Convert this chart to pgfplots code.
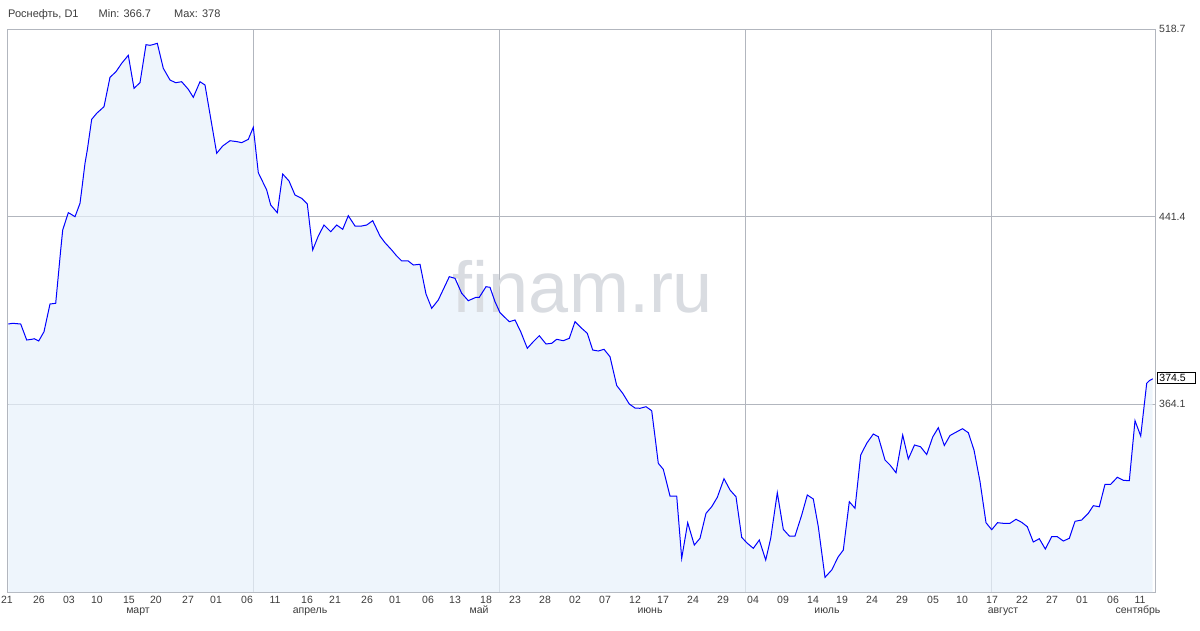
\documentclass[border=0pt]{standalone}
\usepackage{pgfplots}
\pgfplotsset{compat=1.18}
\usepackage{pgfplotstable}
\usepackage{fontspec}
\setmainfont{Liberation Sans}
\definecolor{lineblue}{RGB}{0,0,255}
\definecolor{areafill}{RGB}{231,241,251}
\definecolor{gridgray}{RGB}{178,182,190}
\definecolor{txt}{RGB}{60,60,60}
\definecolor{wm}{RGB}{217,220,225}

% x = position on the time axis, y = price
\pgfplotstableread{
x y
8.3 397.08
12.7 397.37
20.7 397.08
26.7 390.48
31.7 390.77
34.3 391.02
38.7 390.07
44 393.91
50 405.33
55.7 405.61
60.7 427.59
62.7 435.83
68.3 442.97
70.7 442.43
75 441.31
80 446.84
81.7 452.32
85 463.33
87.3 468.82
91.7 481.47
96.7 483.95
104 486.67
110 498.79
116 501.10
121.7 504.56
128.3 507.86
134 494.25
140 496.56
146 512.23
150 511.98
152.7 512.23
157.3 512.81
163.3 502.50
170 497.67
175.7 496.56
181.7 496.97
188.3 493.84
193.3 490.54
200 496.97
205 495.61
216.7 467.46
222.7 470.47
230 472.65
237.3 472.24
241.7 471.82
248.3 473.23
253.3 478.17
258.3 459.46
266.7 452.32
270.7 446.14
277.3 442.97
282.7 458.92
289 456.04
295 450.26
301.7 448.90
307.3 446.55
312.7 427.59
318.3 433.36
324 437.89
330.7 435.13
336.7 437.89
342.7 436.12
348.3 441.73
355 437.48
361.7 437.48
366.7 437.89
372.7 439.67
380 433.36
385 430.60
391.7 427.59
396.7 425.12
401.7 423.06
408.3 423.06
413.3 421.41
420 421.70
426 409.45
431.7 403.56
438.3 406.98
449.3 416.59
455 415.92
461.7 409.74
468.3 406.69
476 408.09
479.3 408.09
486 412.46
490 412.21
495 406.28
500 401.74
509.3 398.03
515 398.73
520.7 393.91
527.3 387.07
533.3 389.79
539.3 392.26
546 388.84
551.7 389.13
556.7 390.77
563.3 390.20
569.3 391.19
575 398.03
581.7 395.31
587.3 393.25
592.7 386.36
598.3 385.95
604 386.65
610 383.60
616.7 371.73
622.7 368.51
629.3 364.10
635 362.45
640 362.33
646 362.99
651.7 361.34
655 350.62
658.3 339.65
663.3 337.18
670 326.17
676.7 326.17
681.7 300.49
687.7 315.17
694.3 305.97
700 308.73
706 319.04
711.7 321.76
717.3 325.63
724 333.31
730 328.65
736 325.88
741.7 309.15
746.7 306.92
753.3 304.61
759.3 308.03
765.7 299.79
770.7 308.73
777.3 327.53
783.3 312.44
789.3 309.68
795 309.68
801.7 318.34
807.3 326.59
813.3 324.94
818.3 313.52
825 292.65
831.7 295.67
838.3 301.15
843.3 303.91
849.3 323.83
855 321.10
860.7 343.08
866.7 347.90
873.3 351.73
878.3 350.62
885 341.02
890 338.95
896 335.78
902.7 351.32
908.3 341.43
914.5 347.20
920.5 346.50
926.7 343.28
932.7 350.50
938.3 354.33
944.3 346.99
950 351.12
956 352.48
962.5 353.92
968.3 352.27
974 345.14
980 332.15
986 315.17
991.7 312.28
997.5 315.17
1003.3 314.92
1010 314.92
1016 316.57
1021.7 315.33
1027.3 313.52
1033.3 307.21
1039.3 308.57
1045.3 304.32
1051.7 309.40
1057.3 309.40
1063.3 307.62
1069.3 308.73
1075 315.74
1081.7 316.28
1088.3 319.04
1093.3 322.17
1099.3 321.76
1105 331.00
1110.7 331.00
1117.3 333.88
1123.3 332.65
1129.3 332.48
1135 357.22
1140.7 350.91
1146.7 372.64
1149.3 373.71
1152.7 374.50
}\rosneft

\begin{document}
\begin{tikzpicture}[x=1pt,y=1pt]
\useasboundingbox (0,0) rectangle (1200,630);

% header
\begin{scope}[every node/.style={anchor=base west, inner sep=0, text=txt, font=\fontsize{11}{13}\selectfont}]
\node at (8,612.7) {Роснефть, D1};
\node at (98.5,612.7) {Min: 366.7};
\node at (174,612.7) {Max: 378};
\end{scope}

\begin{axis}[
    at={(7pt,38pt)}, anchor=south west,
    scale only axis, width=1148pt, height=563pt,
    xmin=7, xmax=1155, ymin=286.6, ymax=518.7,
    axis line style={gridgray, line width=0.9pt},
    xtick={7,39,69,97,129,156,188,216,247,275,307,335,367,395,428,455,486,515,545,575,605,635,663,693,723,753,783,813,842,872,902,933,962,992,1022,1052,1082,1113,1140},
    xticklabels={21,26,03,10,15,20,27,01,06,11,16,21,26,01,06,13,18,23,28,02,07,12,17,24,29,04,09,14,19,24,29,05,10,17,22,27,01,06,11},
    minor xtick={253,499,745,991},
    xminorgrids=true,
    ytick={364.1,441.4,518.7},
    yticklabels={364.1,441.4,518.7},
    ymajorgrids=true,
    yticklabel pos=right,
    major tick length=0, minor tick length=0,
    grid style={gridgray, line width=0.9pt},
    minor grid style={gridgray, line width=0.9pt},
    tick label style={font=\fontsize{10.5}{12}\selectfont, text=txt, inner sep=0},
    xticklabel style={anchor=base, yshift=-11pt},
    yticklabel style={anchor=west, xshift=4pt},
]
\addplot[draw=none, fill=areafill, fill opacity=0.7] table[x=x, y=y]{\rosneft} \closedcycle;
\node[anchor=base, text=wm, inner sep=0, font=\fontsize{72}{80}\selectfont] at (axis cs:583,402.0) {finam.ru};
\addplot[lineblue, line width=1pt, mark=none] table[x=x, y=y]{\rosneft};
\end{axis}

% month names
\begin{scope}[every node/.style={anchor=base, inner sep=0, text=txt, font=\fontsize{10.5}{12}\selectfont}]
\node at (138,17) {март};
\node at (310,17) {апрель};
\node at (479,17) {май};
\node at (650,17) {июнь};
\node at (827,17) {июль};
\node at (1003,17) {август};
\node at (1138,17) {сентябрь};
\end{scope}

% last price marker
\node[draw=black, line width=0.9pt, fill=white, anchor=west, inner xsep=2.5pt, inner ysep=1.5pt,
      text width=33pt, font=\fontsize{10.5}{12}\selectfont] at (1156.5,252) {374.5};
\end{tikzpicture}
\end{document}
